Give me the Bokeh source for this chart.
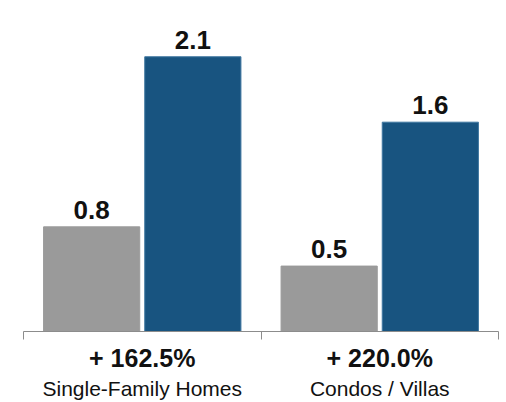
from bokeh.plotting import figure
from bokeh.models import Range1d, ColumnDataSource, FixedTicker, LinearAxis
from bokeh.core.properties import value
from bokeh.embed import file_html
from bokeh.resources import INLINE

# Data
categories = ["Single-Family Homes", "Condos / Villas"]
changes = ["+ 162.5%", "+ 220.0%"]
before_vals = [0.8, 0.5]
after_vals = [2.1, 1.6]

GRAY = "#9a9a9a"
BLUE = "#185480"
FONT = "Liberation Sans"

centers = [0.5 + i for i in range(len(categories))]
dodge = 0.213
bar_w = 0.405

p = figure(width=506, height=402, output_backend="svg", toolbar_location=None,
           x_range=Range1d(0, len(categories)), y_range=Range1d(0, 2.53),
           x_axis_location=None,
           min_border_left=23, min_border_right=8, min_border_top=0, min_border_bottom=0)
p.outline_line_color = None
p.grid.grid_line_color = None
p.yaxis.visible = False

src_before = ColumnDataSource(dict(x=[c - dodge for c in centers], top=before_vals,
                                   lbl=[f"{v:.1f}" for v in before_vals]))
src_after = ColumnDataSource(dict(x=[c + dodge for c in centers], top=after_vals,
                                  lbl=[f"{v:.1f}" for v in after_vals]))

p.vbar(x="x", top="top", width=bar_w, bottom=0, source=src_before,
       fill_color=GRAY, line_color=GRAY)
p.vbar(x="x", top="top", width=bar_w, bottom=0, source=src_after,
       fill_color=BLUE, line_color="#3f77a0", line_width=1)

for src in (src_before, src_after):
    p.text(x="x", y="top", text="lbl", source=src, text_align="center",
           text_baseline="alphabetic", y_offset=-17,
           text_font=value(FONT), text_font_style="bold", text_font_size="26px",
           text_color="#111111")

# Baseline axis: line with hanging ticks at the group boundaries
base_ax = LinearAxis(ticker=FixedTicker(ticks=list(range(len(categories) + 1))),
                     major_label_overrides={i: "" for i in range(len(categories) + 1)},
                     major_label_text_font_size="1px", major_label_standoff=0,
                     axis_line_color="#8c8c8c", major_tick_line_color="#8c8c8c",
                     major_tick_in=0, major_tick_out=8, minor_tick_line_color=None)
p.add_layout(base_ax, "below")

# Percentage change under each group
chg_ax = LinearAxis(ticker=FixedTicker(ticks=centers),
                    major_label_overrides={c: t for c, t in zip(centers, changes)},
                    major_label_text_font=FONT, major_label_text_font_style="bold",
                    major_label_text_font_size="25px", major_label_text_color="#111111",
                    major_label_standoff=-2, axis_line_color=None,
                    major_tick_line_color=None, minor_tick_line_color=None)
p.add_layout(chg_ax, "below")

# Category names
cat_ax = LinearAxis(ticker=FixedTicker(ticks=centers),
                    major_label_overrides={c: t for c, t in zip(centers, categories)},
                    major_label_text_font=FONT, major_label_text_font_size="21px",
                    major_label_text_color="#111111",
                    major_label_standoff=-4, axis_line_color=None,
                    major_tick_line_color=None, minor_tick_line_color=None)
p.add_layout(cat_ax, "below")

open("out.html", "w").write(file_html(p, INLINE))
